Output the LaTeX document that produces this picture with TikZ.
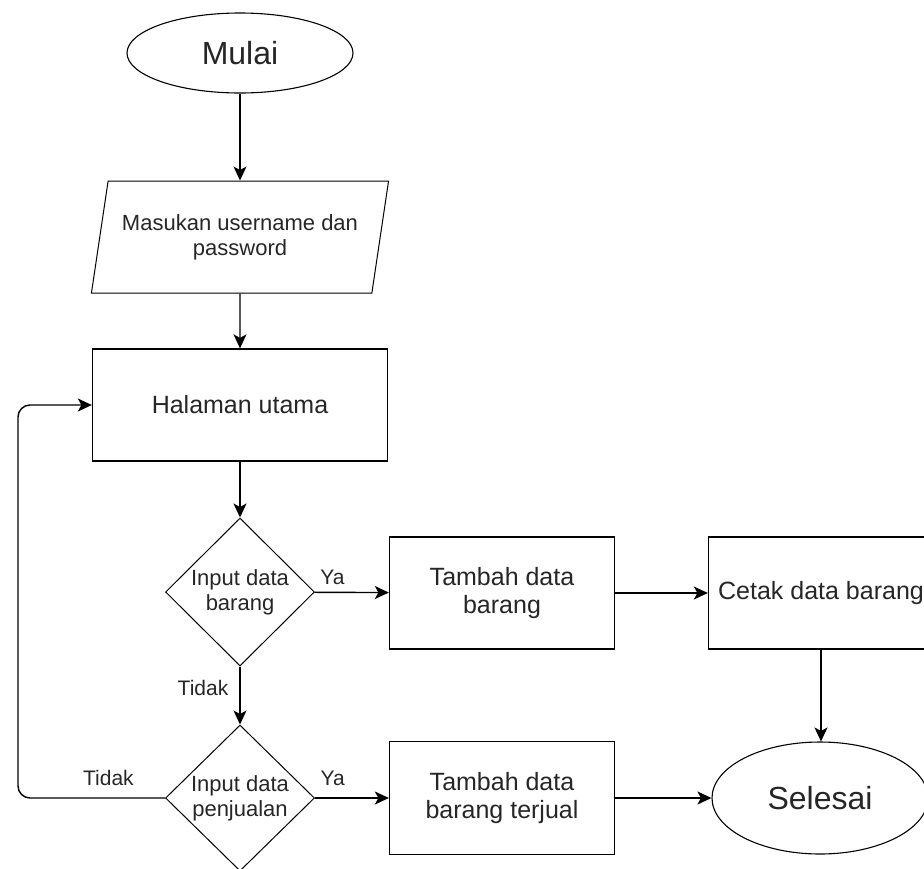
\documentclass[tikz,border=0pt]{standalone}
\usepackage{fontspec}
\setmainfont{Liberation Sans}
\usetikzlibrary{arrows.meta, positioning, shapes.geometric}

\begin{document}
\begin{tikzpicture}[x=1pt, y=-1pt,
    terminal/.style={draw, ellipse, line width=1.1pt, inner sep=0pt, text=black!85, font=\fontsize{32}{36}\selectfont},
    proses/.style={draw, rectangle, line width=1.3pt, minimum width=225pt, minimum height=112pt, align=center, text=black!85, font=\fontsize{25}{28}\selectfont},
    keputusan/.style={draw, diamond, line width=1pt, inner sep=0pt, minimum width=149pt, minimum height=148pt, align=center, text=black!85, font=\fontsize{22}{25}\selectfont},
    masukan/.style={draw, trapezium, trapezium left angle=73.6, trapezium right angle=106.4, trapezium stretches=true, line width=1pt, minimum width=298pt, minimum height=112pt, align=center, text=black!85, font=\fontsize{22}{25}\selectfont},
    panah/.style={-{Stealth[length=14pt, width=13pt, inset=3.5pt]}, line width=1.4pt},
    ket/.style={inner sep=0pt, text=black!85, font=\fontsize{21}{24}\selectfont}]
    \useasboundingbox (0,0) rectangle (924,868);
    \clip (0,0) rectangle (924,868);

    % simbol
    \node[terminal, minimum width=226pt, minimum height=80pt] (mulai) at (240,53) {Mulai};
    \node[masukan] (login) at (240,237) {Masukan username dan\\password};
    \node[proses, minimum width=295pt] (utama) at (240,405) {Halaman utama};
    \node[keputusan] (cekbarang) at (240,592) {Input data\\barang};
    \node[keputusan, minimum height=146pt] (cekjual) at (240,798) {Input data\\penjualan};
    \node[proses] (tambahbarang) at (502,593) {Tambah data\\barang};
    \node[proses] (cetak) at (821,593) {Cetak data barang};
    \node[proses, minimum height=113pt] (tambahjual) at (502,798) {Tambah data\\barang terjual};
    \node[terminal, minimum width=216pt, minimum height=112pt] (selesai) at (820,798) {Selesai};
    \coordinate (balik) at (18,600);

    % alur
    \draw[panah] (mulai) -- (login);
    \draw[panah] (login) -- (utama);
    \draw[panah] (utama) -- (cekbarang);
    \draw[panah] (cekbarang) -- node[ket, pos=0, anchor=south west, xshift=5pt, yshift=7pt] {Ya} (tambahbarang);
    \draw[panah] (tambahbarang) -- (cetak);
    \draw[panah] (cetak.south) -- (cetak.south |- selesai.north);
    \draw[panah] (cekbarang) -- node[ket, pos=0.37, anchor=east, xshift=-11pt] {Tidak} (cekjual);
    \draw[panah] (cekjual) -- node[ket, pos=0, anchor=south west, xshift=5pt, yshift=12pt] {Ya} (tambahjual);
    \draw[panah] (tambahjual) -- (selesai);
    \draw[panah, rounded corners=12pt] (cekjual.west) -- node[ket, pos=0.385, anchor=south, yshift=12pt] {Tidak} (cekjual.west -| balik) -- (balik |- utama.west) -- (utama.west);
\end{tikzpicture}
\end{document}
